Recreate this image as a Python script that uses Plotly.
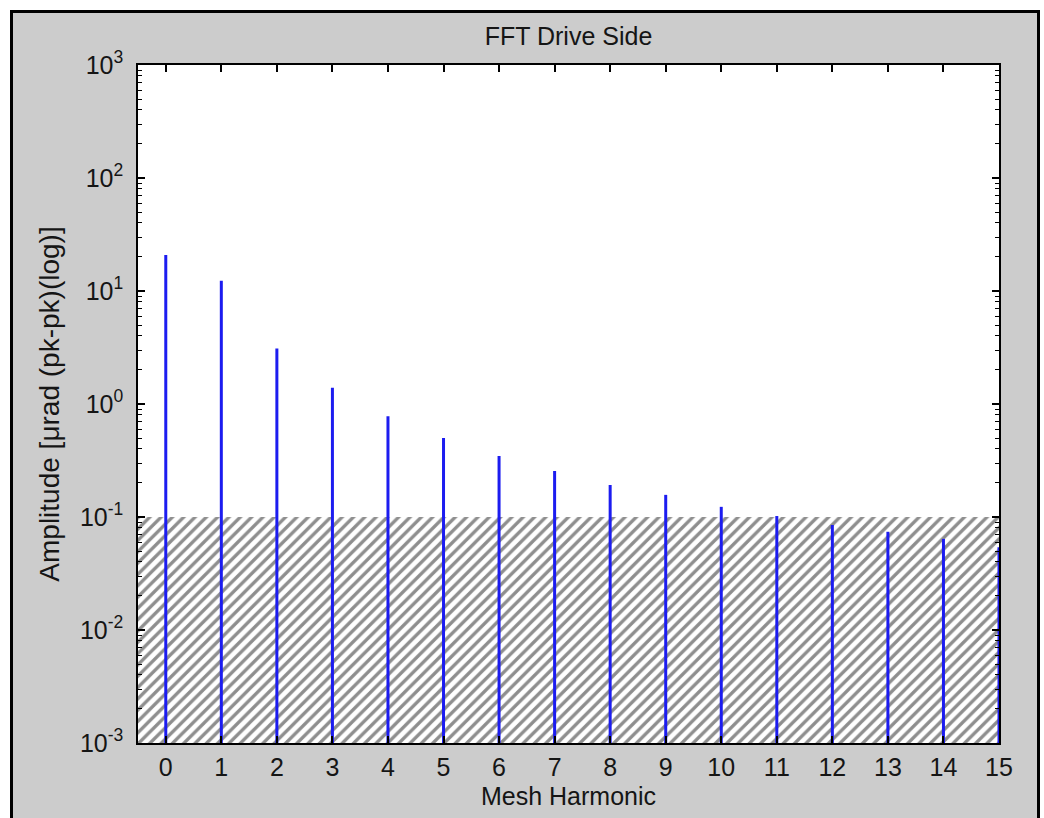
import plotly.graph_objects as go

harmonics = list(range(16))
amplitude = [20.8, 12.3, 3.1, 1.39, 0.78, 0.50, 0.347, 0.255, 0.192, 0.157,
             0.123, 0.102, 0.085, 0.074, 0.064, 0.054]
noise_floor = 0.1
y_floor = 1e-3
x_ticks = list(range(16))
y_tick_vals = [1e-3, 1e-2, 1e-1, 1e0, 1e1, 1e2, 1e3]
y_tick_text = ["10<sup>-3</sup>", "10<sup>-2</sup>", "10<sup>-1</sup>", "10<sup>0</sup>",
               "10<sup>1</sup>", "10<sup>2</sup>", "10<sup>3</sup>"]

W, H = 1044, 818
L, R, T, B = 138, 45, 65, 75
pw, ph = W - L - R, H - T - B

FONT = "Liberation Sans, Arial, sans-serif"
TXT = "#151515"
FS = 25

fig = go.Figure()

# hatched region below noise floor
fig.add_trace(go.Scatter(
    x=[-0.5, 15, 15, -0.5, -0.5],
    y=[y_floor, y_floor, noise_floor, noise_floor, y_floor],
    fill="toself", mode="lines", line=dict(width=0, color="rgba(0,0,0,0)"),
    fillcolor="white",
    fillpattern=dict(shape="/", size=8, solidity=0.42, fgcolor="#1e1e1e", bgcolor="white"),
    hoverinfo="skip", showlegend=False))

# stems
sx, sy = [], []
for h, a in zip(harmonics, amplitude):
    sx += [h, h, None]
    sy += [y_floor, a, None]
fig.add_trace(go.Scatter(x=sx, y=sy, mode="lines",
                         line=dict(color="#1c1cf0", width=3),
                         showlegend=False, cliponaxis=True))

def px_x(p):
    return (p - L) / pw

def px_y(p):
    return (H - B - p) / ph

shapes = [
    # white outside margins
    dict(type="rect", xref="paper", yref="paper", x0=px_x(0), x1=px_x(W), y0=px_y(0), y1=px_y(10),
         fillcolor="white", line=dict(width=0), layer="above"),
    dict(type="rect", xref="paper", yref="paper", x0=px_x(0), x1=px_x(10), y0=px_y(0), y1=px_y(H),
         fillcolor="white", line=dict(width=0), layer="above"),
    dict(type="rect", xref="paper", yref="paper", x0=px_x(1040), x1=px_x(W), y0=px_y(0), y1=px_y(H),
         fillcolor="white", line=dict(width=0), layer="above"),
    # black frame lines
    dict(type="line", xref="paper", yref="paper", x0=px_x(10), x1=px_x(1040), y0=px_y(11.5), y1=px_y(11.5),
         line=dict(color="black", width=3)),
    dict(type="line", xref="paper", yref="paper", x0=px_x(11.5), x1=px_x(11.5), y0=px_y(10), y1=px_y(H + 5),
         line=dict(color="black", width=3)),
    dict(type="line", xref="paper", yref="paper", x0=px_x(1038.5), x1=px_x(1038.5), y0=px_y(10), y1=px_y(H + 5),
         line=dict(color="black", width=3)),
]

fig.update_layout(
    width=W, height=H,
    margin=dict(l=L, r=R, t=T, b=B, pad=0),
    paper_bgcolor="#cccccc",
    plot_bgcolor="white",
    font=dict(family=FONT, size=FS, color=TXT),
    title=dict(text="FFT Drive Side", x=(L + pw / 2) / W, xanchor="center",
               y=1 - 36 / H, yanchor="middle", yref="container",
               font=dict(family=FONT, size=FS, color=TXT)),
    shapes=shapes,
    xaxis=dict(range=[-0.5, 15], tickvals=x_ticks, ticktext=[str(v) for v in x_ticks],
               ticks="inside", ticklen=7, tickwidth=1.5, tickcolor="black",
               showline=True, linecolor="black", linewidth=1.5, mirror="allticks",
               showgrid=False, zeroline=False, ticklabelstandoff=1,
               tickfont=dict(family=FONT, size=FS, color=TXT),
               title=dict(text="Mesh Harmonic", standoff=8,
                          font=dict(family=FONT, size=FS, color=TXT))),
    yaxis=dict(type="log", range=[-3, 3], tickvals=y_tick_vals, ticktext=y_tick_text,
               ticks="inside", ticklen=7, tickwidth=1.5, tickcolor="black",
               minor=dict(ticks="inside", ticklen=4, tickwidth=1.2, tickcolor="black", dtick="D1"),
               showline=True, linecolor="black", linewidth=1.5, mirror="allticks",
               showgrid=False, zeroline=False, ticklabelstandoff=8,
               tickfont=dict(family=FONT, size=FS, color=TXT),
               title=dict(text="Amplitude [μrad (pk-pk)(log)]", standoff=12,
                          font=dict(family=FONT, size=28, color=TXT))),
)

fig.write_html("out.html", post_script="document.body.style.margin='0';",
               config={"displayModeBar": False})
